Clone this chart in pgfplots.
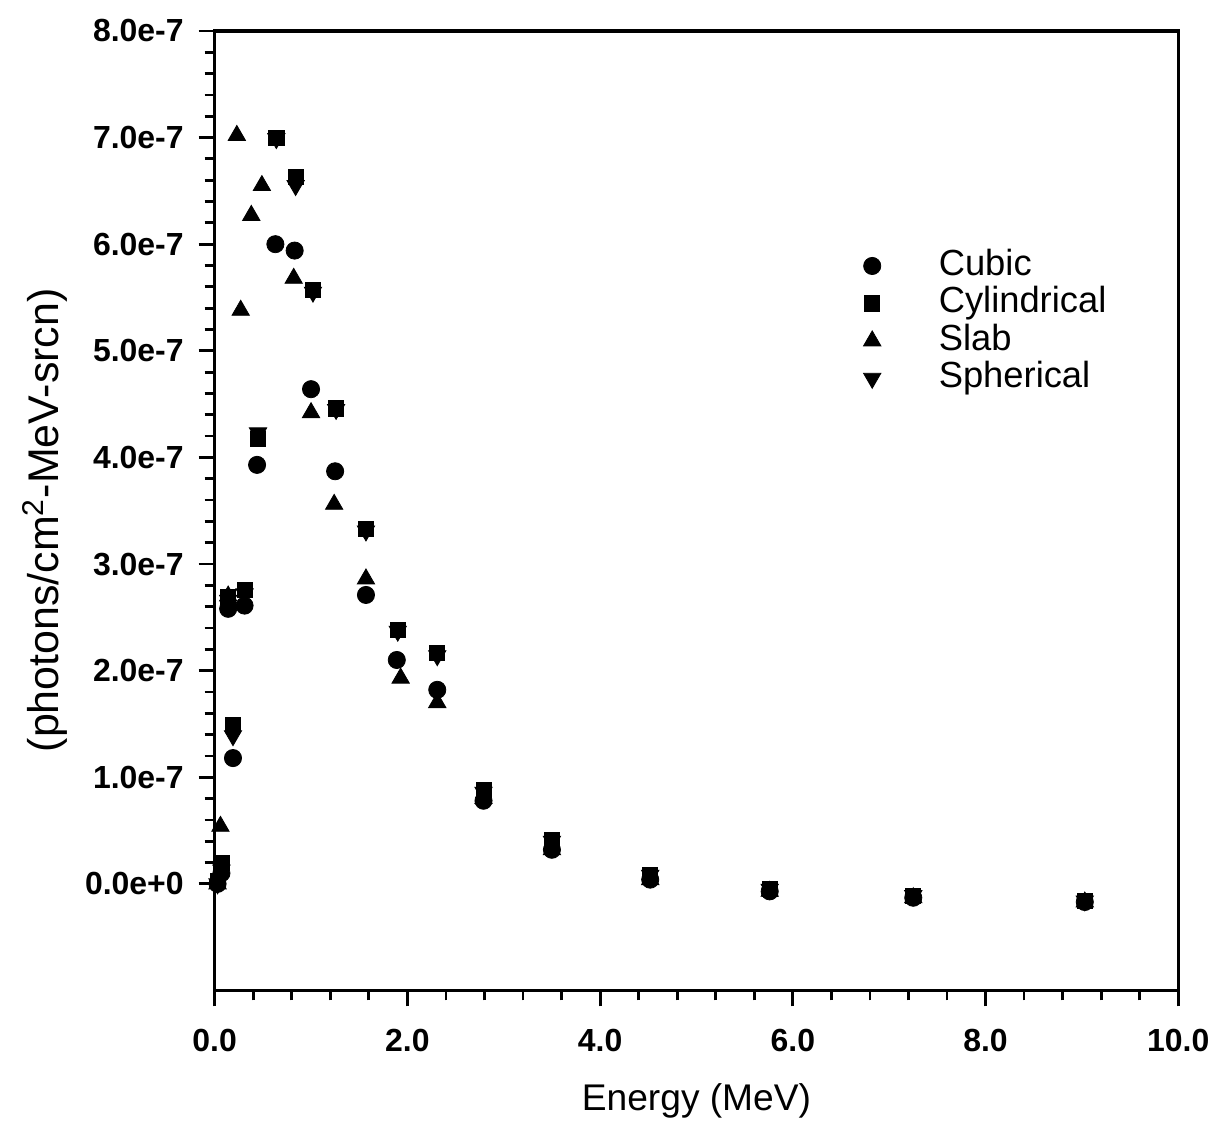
\documentclass[border=0pt]{standalone}
\usepackage{fontspec}
\setmainfont{Liberation Sans}
\usepackage{pgfplots}
\pgfplotsset{compat=1.18}
\begin{document}
\begin{tikzpicture}
\begin{axis}[
  name=ax,
  width=482.5pt, height=480.5pt, scale only axis,
  xmin=0, xmax=10, ymin=-1, ymax=8,
  xtick={0,2,4,6,8,10},
  xticklabels={0.0,2.0,4.0,6.0,8.0,10.0},
  ytick={0,1,2,3,4,5,6,7,8},
  yticklabels={0.0e+0,1.0e-7,2.0e-7,3.0e-7,4.0e-7,5.0e-7,6.0e-7,7.0e-7,8.0e-7},
  minor x tick num=4, minor y tick num=4,
  xtick pos=lower, ytick pos=left, tick align=outside,
  major tick length=8pt, minor tick length=5pt,
  every tick/.style={line width=1.4pt, black},
  axis line style={line width=1.7pt},
  tick label style={font=\fontsize{16}{19}\selectfont\bfseries},
  xticklabel style={yshift=-8pt},
  yticklabel style={xshift=-4pt},
  xlabel={Energy (MeV)},
  ylabel={(photons/cm\textsuperscript{2}-MeV-srcn)},
  xlabel style={font=\fontsize{18.6}{22}\selectfont, at={(axis description cs:0.5,-0.1155)}, anchor=center},
  ylabel style={font=\fontsize{21.5}{25}\selectfont, at={(axis description cs:-0.176,0.49)}, anchor=center},
  legend image code/.code={\draw[#1] plot coordinates {(0pt,0pt)};},
  legend style={draw=none, fill=none, at={(rel axis cs:0.673,0.775)}, anchor=north west,
    font=\fontsize{18.2}{20}\selectfont, row sep=0pt, column sep=29pt, inner sep=0pt,
    nodes={inner sep=0pt, text height=14pt, text depth=4.75pt}},
  legend cell align=left,
]
\addplot[only marks, mark=*, mark size=4.3pt, black] coordinates {
(0.03,0.0) (0.07,0.10) (0.14,2.58) (0.19,1.18) (0.31,2.61) (0.44,3.93) (0.63,6.00) (0.83,5.94)
(1.00,4.64) (1.25,3.87) (1.57,2.71) (1.89,2.10) (2.31,1.82) (2.79,0.78) (3.50,0.32)
(4.52,0.04) (5.76,-0.07) (7.25,-0.13) (9.03,-0.17)};
\addlegendentry{Cubic}
\addplot[only marks, mark=square*, mark size=3.8pt, black] coordinates {
(0.03,0.03) (0.07,0.20) (0.14,2.69) (0.19,1.49) (0.31,2.76) (0.45,4.17) (0.64,7.00) (0.84,6.63)
(1.02,5.57) (1.26,4.46) (1.57,3.33) (1.90,2.38) (2.31,2.17) (2.79,0.88) (3.50,0.41)
(4.52,0.08) (5.76,-0.05) (7.25,-0.11) (9.03,-0.16)};
\addlegendentry{Cylindrical}
\addplot[only marks, mark=triangle*, mark size=5pt, black] coordinates {
(0.03,0.0) (0.06,0.54) (0.14,2.70) (0.23,7.02) (0.27,5.38) (0.38,6.27) (0.49,6.55) (0.82,5.68)
(1.00,4.42) (1.24,3.56) (1.57,2.86) (1.93,1.93) (2.31,1.70) (2.79,0.80) (3.50,0.32)
(4.52,0.04) (5.76,-0.07) (7.25,-0.13) (9.03,-0.17)};
\addlegendentry{Slab}
\addplot[only marks, mark=triangle*, mark options={rotate=180}, mark size=5pt, black] coordinates {
(0.03,0.0) (0.07,0.13) (0.14,2.66) (0.19,1.39) (0.31,2.72) (0.45,4.23) (0.64,6.99) (0.84,6.55)
(1.02,5.55) (1.26,4.45) (1.57,3.31) (1.90,2.37) (2.31,2.14) (2.79,0.86) (3.50,0.40)
(4.52,0.08) (5.76,-0.05) (7.25,-0.11) (9.03,-0.16)};
\addlegendentry{Spherical}
\end{axis}
\path (ax.south west) ++(-107.5pt,-68pt) coordinate (bl);
\path (ax.north east) ++(18pt,15.5pt) coordinate (tr);
\path (bl) rectangle (tr);
\end{tikzpicture}
\end{document}
